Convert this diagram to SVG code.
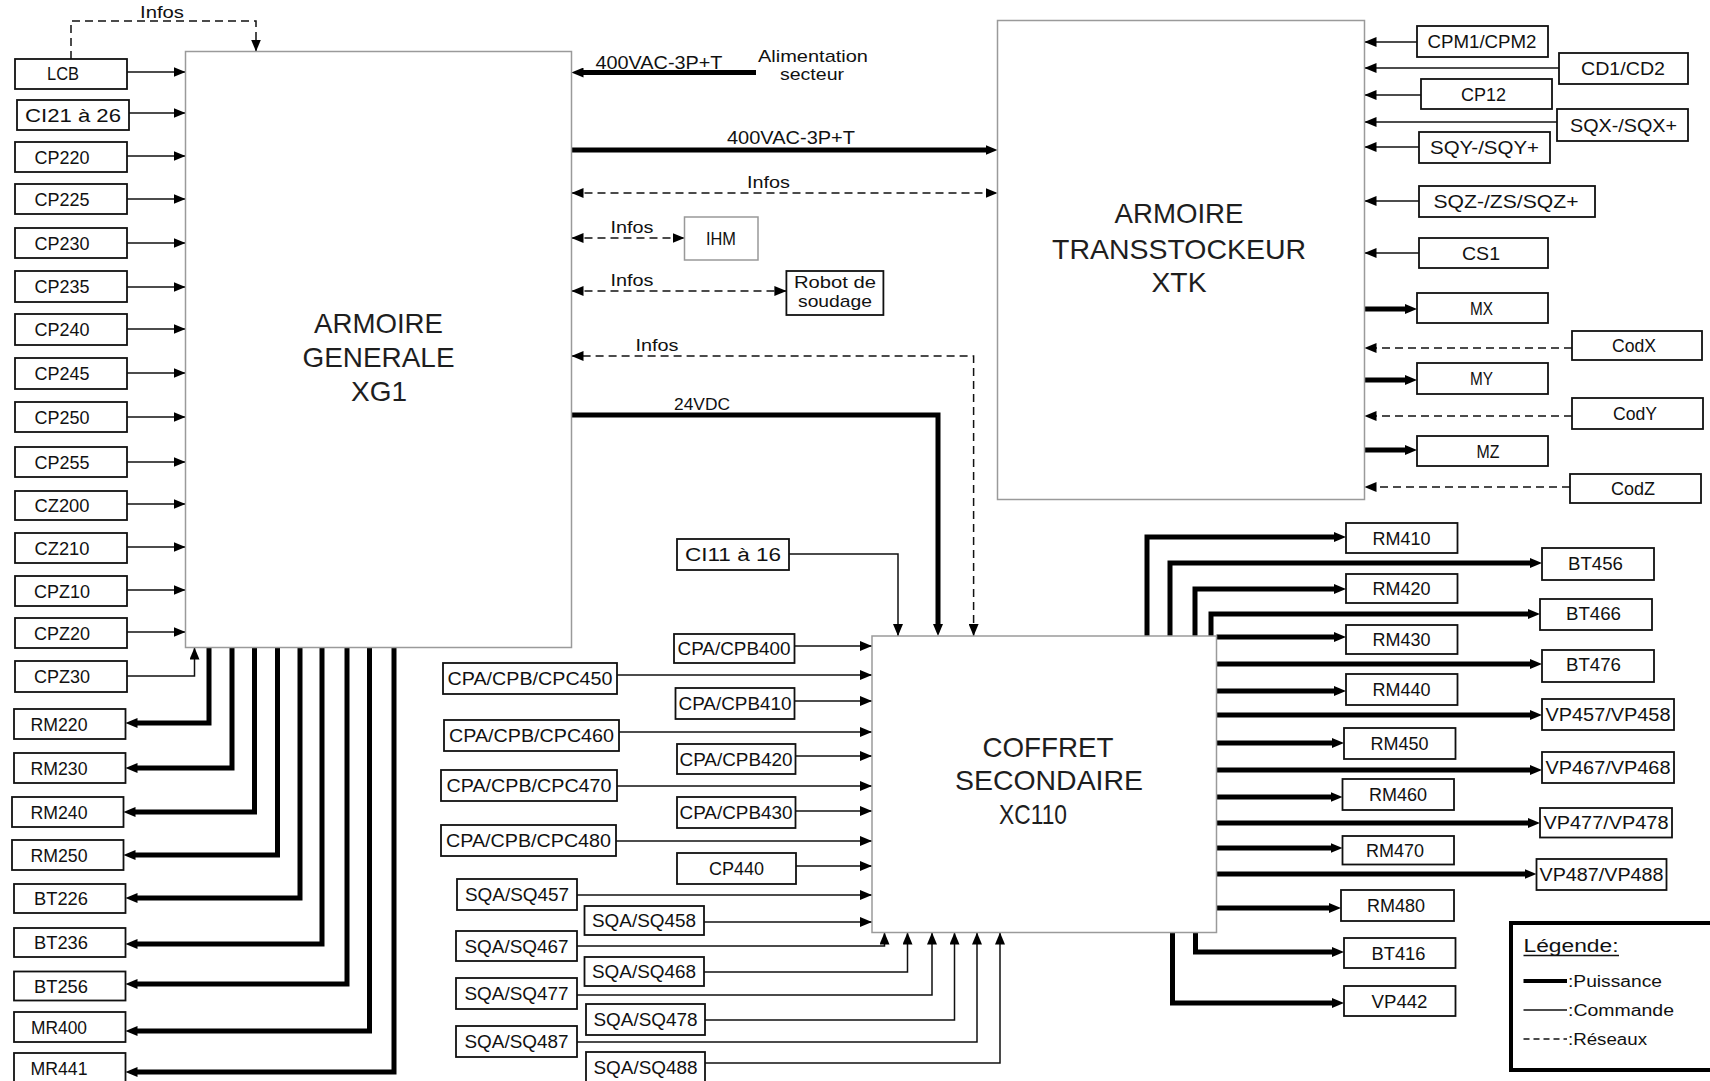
<svg xmlns="http://www.w3.org/2000/svg" width="1710" height="1081" viewBox="0 0 1710 1081">
<style>
.box{fill:#fff;stroke:#111;stroke-width:1.8}
.big{fill:#fff;stroke:#9a9a9a;stroke-width:1.5}
text{font-family:"Liberation Sans",Arial,sans-serif;fill:#111}
.t{font-size:18px;text-anchor:middle}
.s{font-size:17px;text-anchor:middle}
.title{font-size:28px;text-anchor:middle;fill:#1e1e1e}
.pw{fill:none;stroke:#000;stroke-width:5}
.cmd{fill:none;stroke:#111;stroke-width:1.5}
.net{fill:none;stroke:#111;stroke-width:1.5;stroke-dasharray:8 5}
</style>
<defs>
<marker id="ah" viewBox="0 0 12 10" refX="12" refY="5" markerWidth="12" markerHeight="10" markerUnits="userSpaceOnUse" orient="auto-start-reverse"><path d="M0,0L12,5L0,10z" fill="#000"/></marker>
<marker id="ahp" viewBox="0 0 12 10" refX="4" refY="5" markerWidth="12" markerHeight="10" markerUnits="userSpaceOnUse" orient="auto-start-reverse"><path d="M0,0L12,5L0,10z" fill="#000"/></marker>
</defs>
<rect width="1710" height="1081" fill="#fff"/>

<g id="connectors">
<!-- top-left Infos -->
<path class="net" d="M71,59V21H256V51.5" marker-end="url(#ah)"/>
<text class="s" x="162" y="18" textLength="44" lengthAdjust="spacingAndGlyphs">Infos</text>
<!-- left inputs to XG1 -->
<path class="cmd" d="M127,72H185.5" marker-end="url(#ah)"/>
<path class="cmd" d="M129,113H185.5" marker-end="url(#ah)"/>
<path class="cmd" d="M127,156H185.5" marker-end="url(#ah)"/>
<path class="cmd" d="M127,199H185.5" marker-end="url(#ah)"/>
<path class="cmd" d="M127,243H185.5" marker-end="url(#ah)"/>
<path class="cmd" d="M127,287H185.5" marker-end="url(#ah)"/>
<path class="cmd" d="M127,329H185.5" marker-end="url(#ah)"/>
<path class="cmd" d="M127,373H185.5" marker-end="url(#ah)"/>
<path class="cmd" d="M127,417H185.5" marker-end="url(#ah)"/>
<path class="cmd" d="M127,462H185.5" marker-end="url(#ah)"/>
<path class="cmd" d="M127,504H185.5" marker-end="url(#ah)"/>
<path class="cmd" d="M127,547H185.5" marker-end="url(#ah)"/>
<path class="cmd" d="M127,590H185.5" marker-end="url(#ah)"/>
<path class="cmd" d="M127,632H185.5" marker-end="url(#ah)"/>
<path class="cmd" d="M127,676H194.5V647.5" marker-end="url(#ah)"/>
<!-- XG1 bottom outputs -->
<path class="pw" d="M209,647.5V723H133.5" marker-end="url(#ahp)"/>
<path class="pw" d="M232,647.5V768H133.5" marker-end="url(#ahp)"/>
<path class="pw" d="M254.5,647.5V812H131.5" marker-end="url(#ahp)"/>
<path class="pw" d="M277.5,647.5V855H131.5" marker-end="url(#ahp)"/>
<path class="pw" d="M300,647.5V898H133.5" marker-end="url(#ahp)"/>
<path class="pw" d="M322,647.5V944H133.5" marker-end="url(#ahp)"/>
<path class="pw" d="M347,647.5V984H133.5" marker-end="url(#ahp)"/>
<path class="pw" d="M369.5,647.5V1031H133.5" marker-end="url(#ahp)"/>
<path class="pw" d="M394,647.5V1072H133.5" marker-end="url(#ahp)"/>
<!-- top middle -->
<path class="pw" d="M756,72.5H579.5" marker-end="url(#ahp)"/>
<text class="t" x="659" y="69" textLength="127" lengthAdjust="spacingAndGlyphs">400VAC-3P+T</text>
<path class="pw" d="M571.5,150H989.5" marker-end="url(#ahp)"/>
<text class="t" x="791" y="144" textLength="128" lengthAdjust="spacingAndGlyphs">400VAC-3P+T</text>
<path class="net" d="M571.5,193H997.5" marker-start="url(#ah)" marker-end="url(#ah)"/>
<text class="s" x="768.5" y="188" textLength="43" lengthAdjust="spacingAndGlyphs">Infos</text>
<path class="net" d="M571.5,238H684.5" marker-start="url(#ah)" marker-end="url(#ah)"/>
<text class="s" x="632" y="233" textLength="43" lengthAdjust="spacingAndGlyphs">Infos</text>
<path class="net" d="M571.5,291H786.4" marker-start="url(#ah)" marker-end="url(#ah)"/>
<text class="s" x="632" y="286" textLength="43" lengthAdjust="spacingAndGlyphs">Infos</text>
<path class="net" d="M973.6,636V356H571.5" marker-start="url(#ah)" marker-end="url(#ah)"/>
<text class="s" x="657" y="351" textLength="43" lengthAdjust="spacingAndGlyphs">Infos</text>
<path class="pw" d="M571.5,415H938V628" marker-end="url(#ahp)"/>
<text class="s" x="702" y="410" textLength="56" lengthAdjust="spacingAndGlyphs">24VDC</text>
<path class="cmd" d="M789,554H898V636" marker-end="url(#ah)"/>
<!-- inputs to XC110 -->
<path class="cmd" d="M794.5,646H872" marker-end="url(#ah)"/>
<path class="cmd" d="M617,675H872" marker-end="url(#ah)"/>
<path class="cmd" d="M794.5,701H872" marker-end="url(#ah)"/>
<path class="cmd" d="M619,732H872" marker-end="url(#ah)"/>
<path class="cmd" d="M795.5,756H872" marker-end="url(#ah)"/>
<path class="cmd" d="M617,786H872" marker-end="url(#ah)"/>
<path class="cmd" d="M795.5,811H872" marker-end="url(#ah)"/>
<path class="cmd" d="M616,841H872" marker-end="url(#ah)"/>
<path class="cmd" d="M796,866H872" marker-end="url(#ah)"/>
<path class="cmd" d="M577,895H872" marker-end="url(#ah)"/>
<path class="cmd" d="M704,922H872" marker-end="url(#ah)"/>
<path class="cmd" d="M577,946H884.5V932.5" marker-end="url(#ah)"/>
<path class="cmd" d="M704,972H907.5V932.5" marker-end="url(#ah)"/>
<path class="cmd" d="M577,995H932V932.5" marker-end="url(#ah)"/>
<path class="cmd" d="M705,1020H954.5V932.5" marker-end="url(#ah)"/>
<path class="cmd" d="M577,1042H977V932.5" marker-end="url(#ah)"/>
<path class="cmd" d="M705,1063H1000V932.5" marker-end="url(#ah)"/>
<!-- XC110 outputs -->
<path class="pw" d="M1147,636V537H1338" marker-end="url(#ahp)"/>
<path class="pw" d="M1170,636V563H1534" marker-end="url(#ahp)"/>
<path class="pw" d="M1195,636V589H1338" marker-end="url(#ahp)"/>
<path class="pw" d="M1211,636V614H1532" marker-end="url(#ahp)"/>
<path class="pw" d="M1216.5,637H1338" marker-end="url(#ahp)"/>
<path class="pw" d="M1216.5,664H1534" marker-end="url(#ahp)"/>
<path class="pw" d="M1216.5,691H1338" marker-end="url(#ahp)"/>
<path class="pw" d="M1216.5,715H1534" marker-end="url(#ahp)"/>
<path class="pw" d="M1216.5,743H1336" marker-end="url(#ahp)"/>
<path class="pw" d="M1216.5,770H1534" marker-end="url(#ahp)"/>
<path class="pw" d="M1216.5,797H1334.5" marker-end="url(#ahp)"/>
<path class="pw" d="M1216.5,823H1532" marker-end="url(#ahp)"/>
<path class="pw" d="M1216.5,848H1334.5" marker-end="url(#ahp)"/>
<path class="pw" d="M1216.5,874H1528.5" marker-end="url(#ahp)"/>
<path class="pw" d="M1216.5,908H1333" marker-end="url(#ahp)"/>
<path class="pw" d="M1195.5,932.5V952H1336" marker-end="url(#ahp)"/>
<path class="pw" d="M1172.5,932.5V1003H1336" marker-end="url(#ahp)"/>
<!-- XTK side -->
<path class="cmd" d="M1417,42H1364.5" marker-end="url(#ah)"/>
<path class="cmd" d="M1559,68H1364.5" marker-end="url(#ah)"/>
<path class="cmd" d="M1421,95H1364.5" marker-end="url(#ah)"/>
<path class="cmd" d="M1557,122H1364.5" marker-end="url(#ah)"/>
<path class="cmd" d="M1419,147H1364.5" marker-end="url(#ah)"/>
<path class="cmd" d="M1419,201H1364.5" marker-end="url(#ah)"/>
<path class="cmd" d="M1419,253H1364.5" marker-end="url(#ah)"/>
<path class="pw" d="M1364.5,309H1409" marker-end="url(#ahp)"/>
<path class="net" d="M1572,348H1364.5" marker-end="url(#ah)"/>
<path class="pw" d="M1364.5,380H1409" marker-end="url(#ahp)"/>
<path class="net" d="M1572,416H1364.5" marker-end="url(#ah)"/>
<path class="pw" d="M1364.5,450H1409" marker-end="url(#ahp)"/>
<path class="net" d="M1570,487H1364.5" marker-end="url(#ah)"/>
</g>

<!-- big nodes -->
<g id="XG1"><rect class="big" x="185.5" y="51.5" width="386" height="596"/>
<text class="title" x="378.5" y="333" textLength="129" lengthAdjust="spacingAndGlyphs">ARMOIRE</text>
<text class="title" x="378.5" y="367" textLength="152" lengthAdjust="spacingAndGlyphs">GENERALE</text>
<text class="title" x="379" y="401" textLength="56" lengthAdjust="spacingAndGlyphs">XG1</text></g>
<g id="XTK"><rect class="big" x="997.5" y="20.5" width="367" height="479"/>
<text class="title" x="1179" y="223" textLength="129" lengthAdjust="spacingAndGlyphs">ARMOIRE</text>
<text class="title" x="1179" y="259" textLength="254" lengthAdjust="spacingAndGlyphs">TRANSSTOCKEUR</text>
<text class="title" x="1179" y="292" textLength="55" lengthAdjust="spacingAndGlyphs">XTK</text></g>
<g id="XC110"><rect class="big" x="872" y="636" width="344.5" height="296.5"/>
<text class="title" x="1048" y="757" textLength="131" lengthAdjust="spacingAndGlyphs">COFFRET</text>
<text class="title" x="1049" y="790" textLength="188" lengthAdjust="spacingAndGlyphs">SECONDAIRE</text>
<text class="title" x="1033" y="824" textLength="68" lengthAdjust="spacingAndGlyphs">XC110</text></g>

<!-- text-only node -->
<g id="alim"><text class="s" x="813" y="62" textLength="110" lengthAdjust="spacingAndGlyphs">Alimentation</text>
<text class="s" x="812" y="80" textLength="64" lengthAdjust="spacingAndGlyphs">secteur</text></g>
<g id="IHM"><rect x="684.5" y="217" width="73.5" height="43" fill="#fff" stroke="#999" stroke-width="1.5"/><text class="t" x="721" y="245" textLength="30" lengthAdjust="spacingAndGlyphs">IHM</text></g>
<g id="robot"><rect class="box" x="786.4" y="271" width="97" height="44"/><text class="s" x="835" y="287.5" textLength="82" lengthAdjust="spacingAndGlyphs">Robot de</text><text class="s" x="835" y="307" textLength="74" lengthAdjust="spacingAndGlyphs">soudage</text></g>

<!-- left inputs -->
<g id="LCB"><rect class="box" x="15" y="59" width="112" height="30"/><text class="t" x="63" y="80" textLength="32" lengthAdjust="spacingAndGlyphs">LCB</text></g>
<g id="CI21"><rect class="box" x="17" y="100" width="112" height="30"/><text class="t" x="73" y="121.5" textLength="96" lengthAdjust="spacingAndGlyphs">CI21 à 26</text></g>
<g id="CP220"><rect class="box" x="15" y="142" width="112" height="30"/><text class="t" x="62" y="163.5" textLength="55" lengthAdjust="spacingAndGlyphs">CP220</text></g>
<g id="CP225"><rect class="box" x="15" y="184" width="112" height="30"/><text class="t" x="62" y="205.5" textLength="55" lengthAdjust="spacingAndGlyphs">CP225</text></g>
<g id="CP230"><rect class="box" x="15" y="228" width="112" height="30"/><text class="t" x="62" y="249.5" textLength="55" lengthAdjust="spacingAndGlyphs">CP230</text></g>
<g id="CP235"><rect class="box" x="15" y="271" width="112" height="31"/><text class="t" x="62" y="293" textLength="55" lengthAdjust="spacingAndGlyphs">CP235</text></g>
<g id="CP240"><rect class="box" x="15" y="314" width="112" height="31"/><text class="t" x="62" y="336" textLength="55" lengthAdjust="spacingAndGlyphs">CP240</text></g>
<g id="CP245"><rect class="box" x="15" y="358" width="112" height="31"/><text class="t" x="62" y="380" textLength="55" lengthAdjust="spacingAndGlyphs">CP245</text></g>
<g id="CP250"><rect class="box" x="15" y="402" width="112" height="30"/><text class="t" x="62" y="423.5" textLength="55" lengthAdjust="spacingAndGlyphs">CP250</text></g>
<g id="CP255"><rect class="box" x="15" y="447" width="112" height="30"/><text class="t" x="62" y="468.5" textLength="55" lengthAdjust="spacingAndGlyphs">CP255</text></g>
<g id="CZ200"><rect class="box" x="15" y="491" width="112" height="29"/><text class="t" x="62" y="512" textLength="55" lengthAdjust="spacingAndGlyphs">CZ200</text></g>
<g id="CZ210"><rect class="box" x="15" y="533" width="112" height="30"/><text class="t" x="62" y="554.5" textLength="55" lengthAdjust="spacingAndGlyphs">CZ210</text></g>
<g id="CPZ10"><rect class="box" x="15" y="576" width="112" height="30"/><text class="t" x="62" y="597.5" textLength="56" lengthAdjust="spacingAndGlyphs">CPZ10</text></g>
<g id="CPZ20"><rect class="box" x="15" y="618" width="112" height="30"/><text class="t" x="62" y="639.5" textLength="56" lengthAdjust="spacingAndGlyphs">CPZ20</text></g>
<g id="CPZ30"><rect class="box" x="15" y="661" width="112" height="31"/><text class="t" x="62" y="683" textLength="56" lengthAdjust="spacingAndGlyphs">CPZ30</text></g>

<!-- left outputs -->
<g id="RM220"><rect class="box" x="14" y="709" width="111.5" height="30"/><text class="t" x="59" y="730.5" textLength="57" lengthAdjust="spacingAndGlyphs">RM220</text></g>
<g id="RM230"><rect class="box" x="14" y="753" width="111.5" height="30"/><text class="t" x="59" y="774.5" textLength="57" lengthAdjust="spacingAndGlyphs">RM230</text></g>
<g id="RM240"><rect class="box" x="12" y="797" width="111.5" height="30"/><text class="t" x="59" y="818.5" textLength="57" lengthAdjust="spacingAndGlyphs">RM240</text></g>
<g id="RM250"><rect class="box" x="12" y="840" width="111.5" height="30"/><text class="t" x="59" y="861.5" textLength="57" lengthAdjust="spacingAndGlyphs">RM250</text></g>
<g id="BT226"><rect class="box" x="14" y="884" width="111.5" height="29"/><text class="t" x="61" y="905" textLength="54" lengthAdjust="spacingAndGlyphs">BT226</text></g>
<g id="BT236"><rect class="box" x="14" y="928" width="111.5" height="29"/><text class="t" x="61" y="949" textLength="54" lengthAdjust="spacingAndGlyphs">BT236</text></g>
<g id="BT256"><rect class="box" x="14" y="971.5" width="111.5" height="29"/><text class="t" x="61" y="992.5" textLength="54" lengthAdjust="spacingAndGlyphs">BT256</text></g>
<g id="MR400"><rect class="box" x="14" y="1012" width="111.5" height="30"/><text class="t" x="59" y="1033.5" textLength="56" lengthAdjust="spacingAndGlyphs">MR400</text></g>
<g id="MR441"><rect class="box" x="14" y="1053" width="111.5" height="32"/><text class="t" x="59" y="1074.5" textLength="57" lengthAdjust="spacingAndGlyphs">MR441</text></g>

<!-- XC110 inputs -->
<g id="CI11"><rect class="box" x="677" y="539" width="112" height="31"/><text class="t" x="733" y="561" textLength="96" lengthAdjust="spacingAndGlyphs">CI11 à 16</text></g>
<g id="CPB400"><rect class="box" x="674" y="634" width="120.5" height="29"/><text class="t" x="734" y="655" textLength="113" lengthAdjust="spacingAndGlyphs">CPA/CPB400</text></g>
<g id="CPC450"><rect class="box" x="443" y="663" width="174" height="31"/><text class="t" x="530" y="685" textLength="165" lengthAdjust="spacingAndGlyphs">CPA/CPB/CPC450</text></g>
<g id="CPB410"><rect class="box" x="675.5" y="688" width="119" height="31"/><text class="t" x="735" y="710" textLength="113" lengthAdjust="spacingAndGlyphs">CPA/CPB410</text></g>
<g id="CPC460"><rect class="box" x="444" y="720" width="175" height="31"/><text class="t" x="531.5" y="742" textLength="165" lengthAdjust="spacingAndGlyphs">CPA/CPB/CPC460</text></g>
<g id="CPB420"><rect class="box" x="677" y="744" width="118.5" height="30"/><text class="t" x="736" y="765.5" textLength="113" lengthAdjust="spacingAndGlyphs">CPA/CPB420</text></g>
<g id="CPC470"><rect class="box" x="441" y="770" width="176" height="31"/><text class="t" x="529" y="792" textLength="165" lengthAdjust="spacingAndGlyphs">CPA/CPB/CPC470</text></g>
<g id="CPB430"><rect class="box" x="677" y="797" width="118.5" height="31"/><text class="t" x="736" y="819" textLength="113" lengthAdjust="spacingAndGlyphs">CPA/CPB430</text></g>
<g id="CPC480"><rect class="box" x="441" y="825" width="175" height="31"/><text class="t" x="528.5" y="847" textLength="165" lengthAdjust="spacingAndGlyphs">CPA/CPB/CPC480</text></g>
<g id="CP440"><rect class="box" x="677" y="853" width="119" height="31"/><text class="t" x="736.5" y="875" textLength="55" lengthAdjust="spacingAndGlyphs">CP440</text></g>
<g id="SQ457"><rect class="box" x="457" y="879" width="120" height="31"/><text class="t" x="517" y="901" textLength="104" lengthAdjust="spacingAndGlyphs">SQA/SQ457</text></g>
<g id="SQ458"><rect class="box" x="584.5" y="906" width="119.5" height="29"/><text class="t" x="644" y="927" textLength="104" lengthAdjust="spacingAndGlyphs">SQA/SQ458</text></g>
<g id="SQ467"><rect class="box" x="456" y="931" width="121" height="30"/><text class="t" x="516.5" y="952.5" textLength="104" lengthAdjust="spacingAndGlyphs">SQA/SQ467</text></g>
<g id="SQ468"><rect class="box" x="584.5" y="957" width="119.5" height="29"/><text class="t" x="644" y="978" textLength="104" lengthAdjust="spacingAndGlyphs">SQA/SQ468</text></g>
<g id="SQ477"><rect class="box" x="456" y="978" width="121" height="31"/><text class="t" x="516.5" y="1000" textLength="104" lengthAdjust="spacingAndGlyphs">SQA/SQ477</text></g>
<g id="SQ478"><rect class="box" x="586" y="1004" width="119" height="31"/><text class="t" x="645.5" y="1026" textLength="104" lengthAdjust="spacingAndGlyphs">SQA/SQ478</text></g>
<g id="SQ487"><rect class="box" x="456" y="1026" width="121" height="31"/><text class="t" x="516.5" y="1048" textLength="104" lengthAdjust="spacingAndGlyphs">SQA/SQ487</text></g>
<g id="SQ488"><rect class="box" x="586" y="1052" width="119" height="30"/><text class="t" x="645.5" y="1073.5" textLength="104" lengthAdjust="spacingAndGlyphs">SQA/SQ488</text></g>

<!-- XC110 outputs -->
<g id="RM410"><rect class="box" x="1346" y="523" width="111.5" height="30"/><text class="t" x="1401.5" y="544.5" textLength="58" lengthAdjust="spacingAndGlyphs">RM410</text></g>
<g id="BT456"><rect class="box" x="1542" y="548" width="112" height="32"/><text class="t" x="1595.5" y="570" textLength="55" lengthAdjust="spacingAndGlyphs">BT456</text></g>
<g id="RM420"><rect class="box" x="1346" y="574" width="111.5" height="29"/><text class="t" x="1401.5" y="595" textLength="58" lengthAdjust="spacingAndGlyphs">RM420</text></g>
<g id="BT466"><rect class="box" x="1540" y="599" width="112" height="31"/><text class="t" x="1593.5" y="620" textLength="55" lengthAdjust="spacingAndGlyphs">BT466</text></g>
<g id="RM430"><rect class="box" x="1346" y="625" width="111.5" height="29"/><text class="t" x="1401.5" y="646" textLength="58" lengthAdjust="spacingAndGlyphs">RM430</text></g>
<g id="BT476"><rect class="box" x="1542" y="650" width="112" height="32"/><text class="t" x="1593.5" y="671" textLength="55" lengthAdjust="spacingAndGlyphs">BT476</text></g>
<g id="RM440"><rect class="box" x="1346" y="674" width="111.5" height="31"/><text class="t" x="1401.5" y="696" textLength="58" lengthAdjust="spacingAndGlyphs">RM440</text></g>
<g id="VP457"><rect class="box" x="1542" y="699" width="132" height="31"/><text class="t" x="1608" y="721" textLength="125" lengthAdjust="spacingAndGlyphs">VP457/VP458</text></g>
<g id="RM450"><rect class="box" x="1344" y="728" width="111.5" height="31"/><text class="t" x="1399.5" y="750" textLength="58" lengthAdjust="spacingAndGlyphs">RM450</text></g>
<g id="VP467"><rect class="box" x="1542" y="752" width="132" height="31"/><text class="t" x="1608" y="774" textLength="125" lengthAdjust="spacingAndGlyphs">VP467/VP468</text></g>
<g id="RM460"><rect class="box" x="1342.5" y="779" width="111.5" height="31"/><text class="t" x="1398" y="801" textLength="58" lengthAdjust="spacingAndGlyphs">RM460</text></g>
<g id="VP477"><rect class="box" x="1540" y="808" width="132" height="29.5"/><text class="t" x="1606" y="829" textLength="125" lengthAdjust="spacingAndGlyphs">VP477/VP478</text></g>
<g id="RM470"><rect class="box" x="1342.5" y="836" width="111.5" height="28.5"/><text class="t" x="1395" y="856.5" textLength="58" lengthAdjust="spacingAndGlyphs">RM470</text></g>
<g id="VP487"><rect class="box" x="1536.5" y="859" width="130" height="31"/><text class="t" x="1601.5" y="881" textLength="124" lengthAdjust="spacingAndGlyphs">VP487/VP488</text></g>
<g id="RM480"><rect class="box" x="1341" y="890" width="113" height="31"/><text class="t" x="1396" y="912" textLength="58" lengthAdjust="spacingAndGlyphs">RM480</text></g>
<g id="BT416"><rect class="box" x="1344" y="938" width="111.5" height="30"/><text class="t" x="1398.5" y="959.5" textLength="54" lengthAdjust="spacingAndGlyphs">BT416</text></g>
<g id="VP442"><rect class="box" x="1344" y="986" width="111.5" height="30"/><text class="t" x="1399.5" y="1007.5" textLength="56" lengthAdjust="spacingAndGlyphs">VP442</text></g>

<!-- XTK side -->
<g id="CPM"><rect class="box" x="1417" y="26" width="131" height="31"/><text class="t" x="1482" y="48" textLength="109" lengthAdjust="spacingAndGlyphs">CPM1/CPM2</text></g>
<g id="CD"><rect class="box" x="1559" y="53" width="129" height="31"/><text class="t" x="1623" y="75" textLength="84" lengthAdjust="spacingAndGlyphs">CD1/CD2</text></g>
<g id="CP12"><rect class="box" x="1421" y="79" width="131" height="30"/><text class="t" x="1483.5" y="100.5" textLength="45" lengthAdjust="spacingAndGlyphs">CP12</text></g>
<g id="SQX"><rect class="box" x="1557" y="109" width="131" height="32"/><text class="t" x="1623.5" y="131.5" textLength="107" lengthAdjust="spacingAndGlyphs">SQX-/SQX+</text></g>
<g id="SQY"><rect class="box" x="1419" y="132" width="131" height="31"/><text class="t" x="1484.5" y="154" textLength="109" lengthAdjust="spacingAndGlyphs">SQY-/SQY+</text></g>
<g id="SQZ"><rect class="box" x="1419" y="186" width="176" height="31"/><text class="t" x="1506" y="208" textLength="145" lengthAdjust="spacingAndGlyphs">SQZ-/ZS/SQZ+</text></g>
<g id="CS1"><rect class="box" x="1419" y="238" width="129" height="30"/><text class="t" x="1481" y="259.5" textLength="38" lengthAdjust="spacingAndGlyphs">CS1</text></g>
<g id="MX"><rect class="box" x="1417" y="293" width="131" height="30"/><text class="t" x="1481.5" y="314.5" textLength="23" lengthAdjust="spacingAndGlyphs">MX</text></g>
<g id="CodX"><rect class="box" x="1572" y="331" width="130" height="29"/><text class="t" x="1634" y="352" textLength="44" lengthAdjust="spacingAndGlyphs">CodX</text></g>
<g id="MY"><rect class="box" x="1417" y="363" width="131" height="31"/><text class="t" x="1481.5" y="385" textLength="23" lengthAdjust="spacingAndGlyphs">MY</text></g>
<g id="CodY"><rect class="box" x="1572" y="398" width="131" height="31"/><text class="t" x="1635" y="420" textLength="44" lengthAdjust="spacingAndGlyphs">CodY</text></g>
<g id="MZ"><rect class="box" x="1417" y="436" width="131" height="30"/><text class="t" x="1488" y="457.5" textLength="23" lengthAdjust="spacingAndGlyphs">MZ</text></g>
<g id="CodZ"><rect class="box" x="1570" y="474" width="131" height="29"/><text class="t" x="1633" y="495" textLength="44" lengthAdjust="spacingAndGlyphs">CodZ</text></g>

<!-- legend -->
<g id="legend">
<rect x="1511" y="923" width="205" height="147" fill="#fff" stroke="#000" stroke-width="4"/>
<text x="1523.5" y="952" font-size="18" textLength="95" lengthAdjust="spacingAndGlyphs">Légende:</text>
<line x1="1523.5" y1="955.5" x2="1619" y2="955.5" stroke="#111" stroke-width="1.3"/>
<line x1="1523.5" y1="981" x2="1567" y2="981" stroke="#000" stroke-width="4"/>
<text x="1568" y="987" font-size="16" textLength="94" lengthAdjust="spacingAndGlyphs">:Puissance</text>
<line x1="1523.5" y1="1010" x2="1567" y2="1010" stroke="#111" stroke-width="1.5"/>
<text x="1568" y="1016" font-size="16" textLength="106" lengthAdjust="spacingAndGlyphs">:Commande</text>
<line x1="1523.5" y1="1039" x2="1567" y2="1039" stroke="#111" stroke-width="1.5" stroke-dasharray="6 4"/>
<text x="1568" y="1045" font-size="16" textLength="79" lengthAdjust="spacingAndGlyphs">:Réseaux</text>
</g>
</svg>
